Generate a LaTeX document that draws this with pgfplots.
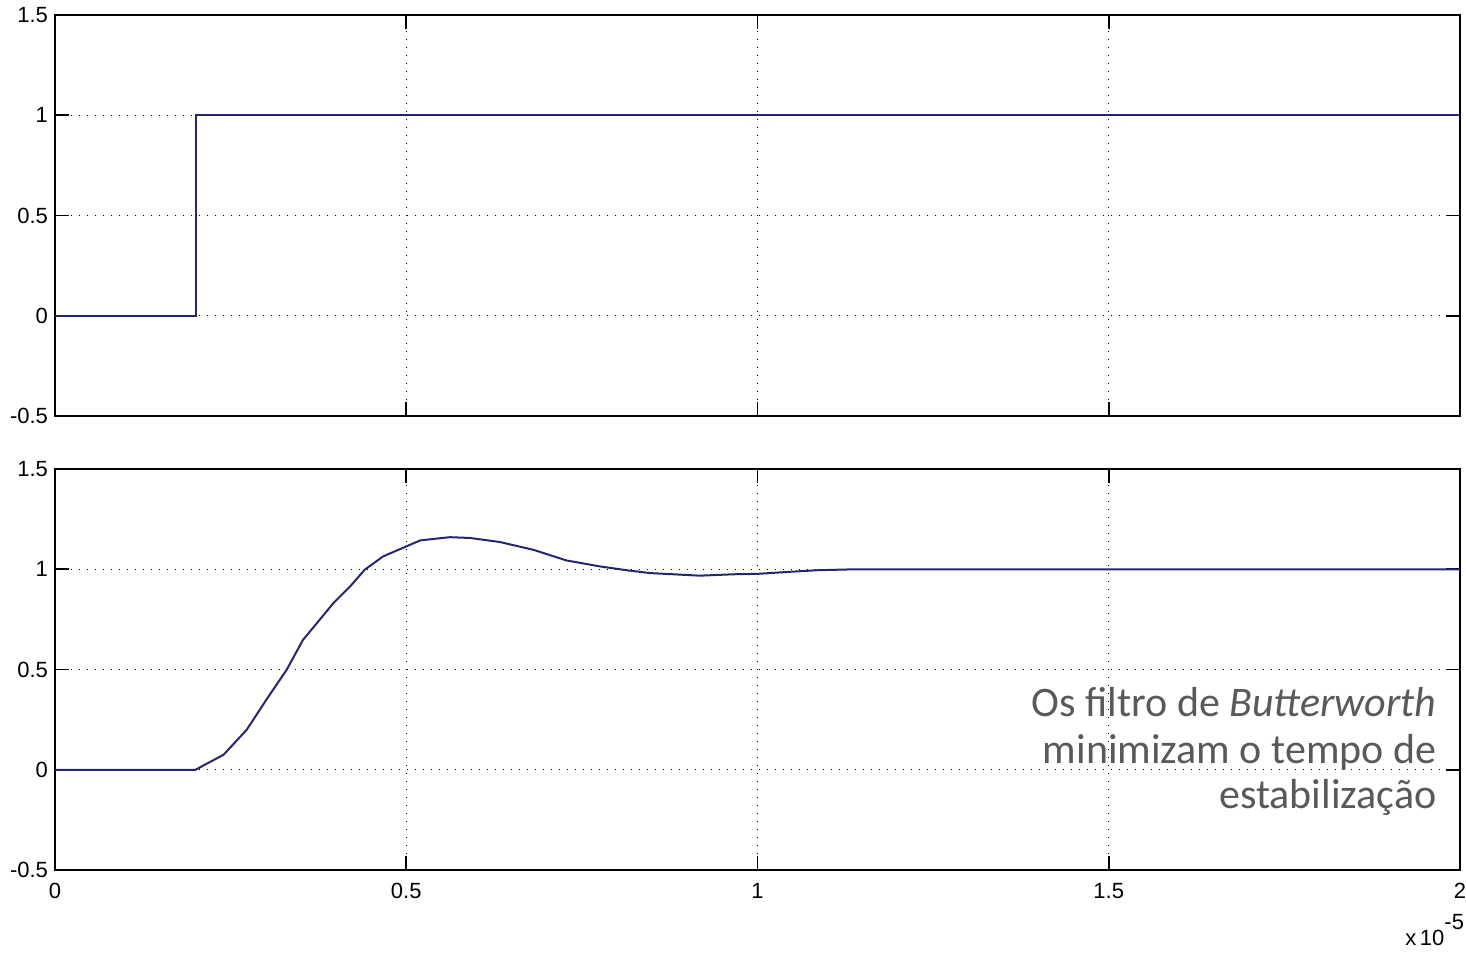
\documentclass[border=0pt]{standalone}
\usepackage{fontspec}
\setmainfont{Liberation Sans}
\newfontfamily\calibri{Carlito}
\usepackage{pgfplots}
\pgfplotsset{compat=1.18}
\definecolor{trace}{RGB}{38,38,112}
\definecolor{note}{RGB}{89,89,89}

\pgfplotsset{
  scope/.style={
    scale only axis,
    width=702.5pt, height=200.5pt,
    xmin=0, xmax=2, ymin=-0.5, ymax=1.5,
    xtick={0,0.5,1,1.5,2},
    ytick={-0.5,0,0.5,1,1.5},
    grid=major,
    major grid style={black, line width=0.5pt, dash pattern=on 0.6pt off 3.4pt},
    axis line style={black, line width=0.8pt},
    tick style={black, line width=0.8pt},
    major tick length=7pt,
    tick align=inside,
    xtick pos=both, ytick pos=both,
    tick label style={font=\fontsize{11}{13}\selectfont},
    /pgf/number format/assume math mode=true,
    yticklabel style={xshift=0pt},
    clip=false,
  },
  trace line/.style={trace, no marks, line width=1pt},
}

\begin{document}
\begin{tikzpicture}
% input step
\begin{axis}[scope, at={(0pt,0pt)}, xticklabels={}]
\addplot[trace line] coordinates {(0,0) (0.2,0) (0.2,1) (2,1)};
\end{axis}

% filter response
\begin{axis}[scope, at={(0pt,-227pt)}, xticklabel style={yshift=-3pt}]
\addplot[trace line] coordinates {
  (0,0) (0.2,0) (0.24,0.075) (0.273,0.2) (0.301,0.35) (0.33,0.5)
  (0.353,0.648) (0.3725,0.73) (0.396,0.83) (0.42,0.914) (0.441,0.998)
  (0.467,1.064) (0.5,1.114) (0.52,1.144) (0.562,1.16) (0.591,1.156)
  (0.633,1.136) (0.681,1.097) (0.728,1.044) (0.776,1.014) (0.814,0.995)
  (0.847,0.981) (0.88,0.975) (0.918,0.968) (0.966,0.975) (1.0,0.977)
  (1.04,0.986) (1.084,0.995) (1.141,1.0) (1.2,1.0) (2,1)};
\node[font=\fontsize{11}{13}\selectfont, anchor=base] at (axis cs:1.950,-0.876)
  {x\,10\raisebox{1.4ex}{\makebox[0pt][l]{-5}}};
\begin{scope}[every node/.style={anchor=base east, inner sep=0pt, text=note,
    font=\calibri\fontsize{21}{25}\selectfont}]
  \node at (axis cs:1.967,0.266) {Os filtro de \textit{Butterworth}};
  \node at (axis cs:1.967,0.033) {minimizam o tempo de};
  \node at (axis cs:1.967,-0.192) {estabilização};
\end{scope}
\end{axis}
\pgfresetboundingbox
\useasboundingbox (-27.5pt,-268.5pt) rectangle (705.5pt,208pt);
\end{tikzpicture}
\end{document}
